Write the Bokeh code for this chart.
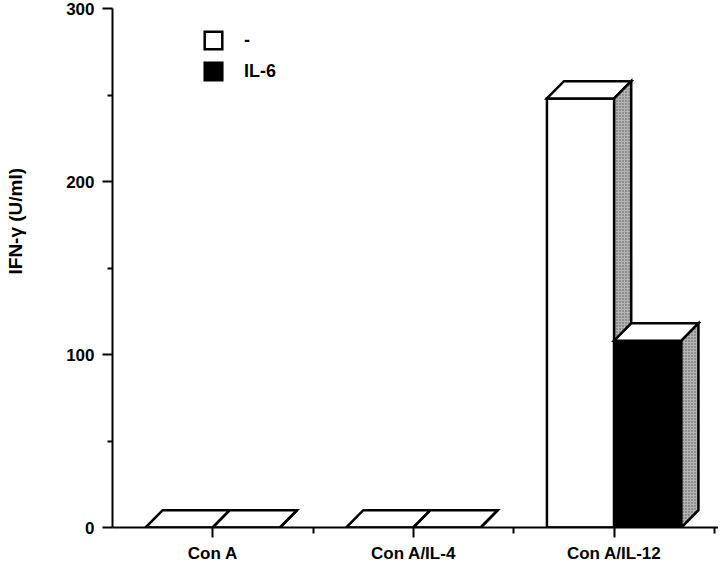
import math
from bokeh.plotting import figure
from bokeh.models import (FixedTicker, Legend, LegendItem, Range1d, Title,
                          LinearAxis, ColumnDataSource)
from bokeh.embed import file_html
from bokeh.resources import INLINE

# ---- data ----
categories = ["Con A", "Con A/IL-4", "Con A/IL-12"]
series_names = ["-", "IL-6"]
values_none = [0, 0, 248]
values_il6 = [0, 0, 108]
y_ticks = [0, 100, 200, 300]
y_minor_ticks = [50, 150, 250]
y_label = "IFN-γ (U/ml)"

# ---- style ----
FONT = "Liberation Sans"
BAR_W = 0.335      # bar width in category units
DX = 0.085         # 3-D depth offset (x, category units)
DY = 10.0          # 3-D depth offset (y, data units)
LW = 2.5
SIDE = "#b4b4b4"

p = figure(width=718, height=565,
           x_range=Range1d(0, 3.02), y_range=Range1d(0, 300),
           output_backend="svg", toolbar_location=None,
           min_border_left=112, min_border_right=0,
           min_border_top=8, min_border_bottom=37)
p.outline_line_color = None
p.xgrid.grid_line_color = None
p.ygrid.grid_line_color = None
p.background_fill_color = "white"
p.border_fill_color = "white"


def geometry(values, side):
    left, right, xs_top, ys_top, xs_side, ys_side = [], [], [], [], [], []
    for i, v in enumerate(values):
        c = i + 0.5
        l = c - BAR_W if side == 0 else c
        r = c if side == 0 else c + BAR_W
        left.append(l)
        right.append(r)
        xs_top.append([l, l + DX, r + DX, r])
        ys_top.append([v, v + DY, v + DY, v])
        xs_side.append([r, r + DX, r + DX, r])
        ys_side.append([0, DY, v + DY, v])
    return left, right, xs_top, ys_top, xs_side, ys_side


front_renderers = []
for k, (vals, color) in enumerate([(values_none, "white"), (values_il6, "black")]):
    l, r, xt, yt, xsd, ysd = geometry(vals, k)
    src = ColumnDataSource(dict(left=l, right=r, top=vals, bottom=[0] * len(vals)))
    fr = p.quad(left="left", right="right", top="top", bottom="bottom", source=src,
                fill_color=color, line_color="black", line_width=LW, line_join="miter")
    p.patches(xs=xt, ys=yt, fill_color="white", line_color="black",
              line_width=LW, line_join="miter")
    p.patches(xs=xsd, ys=ysd, fill_color=SIDE, line_color="black",
              line_width=LW, line_join="miter",
              hatch_pattern=".", hatch_color="#555555", hatch_scale=3,
              hatch_weight=1)
    front_renderers.append(fr)

# ---- axes ----
xa = p.xaxis[0]
xa.ticker = FixedTicker(ticks=[i + 0.5 for i in range(len(categories))],
                        minor_ticks=[i + 1 for i in range(len(categories))])
xa.major_label_overrides = {i + 0.5: c for i, c in enumerate(categories)}
xa.major_tick_in = 0
xa.major_tick_out = 10
xa.minor_tick_in = 0
xa.minor_tick_out = 6
xa.major_label_standoff = 6

ya = p.yaxis[0]
ya.ticker = FixedTicker(ticks=y_ticks, minor_ticks=y_minor_ticks)
ya.major_tick_in = 0
ya.major_tick_out = 10
ya.minor_tick_in = 0
ya.minor_tick_out = 5
ya.major_label_standoff = 8

for ax in (xa, ya):
    ax.axis_line_width = 2
    ax.major_tick_line_width = 2
    ax.minor_tick_line_width = 2
    ax.axis_line_color = "black"
    ax.major_tick_line_color = "black"
    ax.minor_tick_line_color = "black"
    ax.major_label_text_font = FONT
    ax.major_label_text_font_style = "bold"
    ax.major_label_text_font_size = "17px"
    ax.major_label_text_color = "black"

# invisible spacer panel between the y axis and its title:
# one white tick on a white background, with an empty label
spacer = LinearAxis(ticker=FixedTicker(ticks=[150]), axis_line_color=None,
                    major_tick_line_color="white", minor_tick_line_color=None,
                    major_tick_in=0, major_tick_out=38, minor_tick_in=0,
                    minor_tick_out=0, major_label_standoff=0,
                    major_label_overrides={150: ""},
                    major_label_text_font_size="1px")
p.add_layout(spacer, "left")

ytitle = Title(text=y_label, align="left", offset=253, standoff=0,
               vertical_align="bottom",
               text_font=FONT, text_font_style="bold",
               text_font_size="19px", text_color="black")
p.add_layout(ytitle, "left")

legend = Legend(items=[LegendItem(label=series_names[0], renderers=[front_renderers[0]]),
                       LegendItem(label=series_names[1], renderers=[front_renderers[1]])],
                location=(90, 445), orientation="vertical",
                padding=0, margin=0, spacing=9,
                glyph_width=22, glyph_height=22, label_standoff=20,
                label_text_font=FONT, label_text_font_style="bold",
                label_text_font_size="18px", label_text_color="black",
                border_line_color=None, background_fill_alpha=0)
p.add_layout(legend)

open("out.html", "w").write(file_html(p, INLINE))
